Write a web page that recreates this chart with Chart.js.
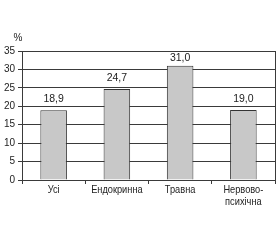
<!DOCTYPE html>
<html><head><meta charset="utf-8">
<script src="https://cdn.jsdelivr.net/npm/chart.js@4/dist/chart.umd.min.js"></script>
<style>html,body{margin:0;padding:0;background:#fff;}canvas{display:block;}</style>
</head><body>
<canvas id="c" width="280" height="240"></canvas>
<script>
const categories = ["Усі", "Ендокринна", "Травна", ["Нервово-", "психічна"]];
const values = [18.9, 24.7, 31.0, 19.0];
const valueLabels = ["18,9", "24,7", "31,0", "19,0"];
const yTicks = [0, 5, 10, 15, 20, 25, 30, 35];
const unitLabel = "%";

const FONT = "'Liberation Sans', Arial, sans-serif";
const LINE = '#3a3a3a';
const TEXT = '#222';

const extras = {
  id: 'extras',
  afterDatasetsDraw(chart) {
    const ctx = chart.ctx, ca = chart.chartArea;
    ctx.save();
    ctx.strokeStyle = LINE; ctx.lineWidth = 1;
    ctx.beginPath(); ctx.moveTo(Math.round(ca.right) + 0.5, ca.top); ctx.lineTo(Math.round(ca.right) + 0.5, ca.bottom + 4); ctx.stroke();
    ctx.fillStyle = TEXT;
    ctx.font = "10.5px " + FONT;
    ctx.textAlign = 'center'; ctx.textBaseline = 'middle';
    const meta = chart.getDatasetMeta(0);
    meta.data.forEach((bar, i) => {
      const y = Math.max(bar.y - 11, ca.top + 7);
      ctx.fillText(valueLabels[i], bar.x, y);
    });
    ctx.font = "10px " + FONT;
    ctx.fillText(unitLabel, 18, ca.top - 13);
    // category labels, slightly condensed
    const xs = chart.scales.x;
    ctx.font = "10.5px " + FONT;
    ctx.textBaseline = 'top';
    categories.forEach((lab, i) => {
      const lines = Array.isArray(lab) ? lab : [lab];
      const cx = xs.getPixelForValue(i);
      lines.forEach((ln, j) => {
        ctx.save();
        ctx.translate(cx, ca.bottom + 5 + j * 12);
        ctx.scale(0.88, 1);
        ctx.fillText(ln, 0, 0);
        ctx.restore();
      });
    });
    ctx.restore();
  }
};

new Chart(document.getElementById('c'), {
  type: 'bar',
  data: {
    labels: categories,
    datasets: [{
      data: values,
      backgroundColor: '#c8c8c8',
      borderColor: '#333',
      borderWidth: 1,
      categoryPercentage: 1,
      barPercentage: 0.42
    }]
  },
  options: {
    responsive: false,
    animation: false,
    devicePixelRatio: 1,
    layout: { padding: { left: 0, right: 5, top: 51, bottom: 0 } },
    plugins: { legend: { display: false }, tooltip: { enabled: false } },
    scales: {
      x: {
        afterFit(s) { s.height = 60; },
        grid: { display: true, drawOnChartArea: false, color: LINE, tickLength: 4, offset: true },
        border: { display: true, color: LINE },
        ticks: { display: false }
      },
      y: {
        min: 0, max: 35,
        afterFit(s) { s.width = 22; },
        afterBuildTicks(s) { s.ticks = yTicks.map(v => ({ value: v })); },
        grid: { color: LINE, tickLength: 4, lineWidth: 1 },
        border: { display: true, color: LINE },
        ticks: { color: TEXT, font: { family: FONT, size: 10 }, padding: 3 }
      }
    }
  },
  plugins: [extras]
});
</script>
</body></html>
